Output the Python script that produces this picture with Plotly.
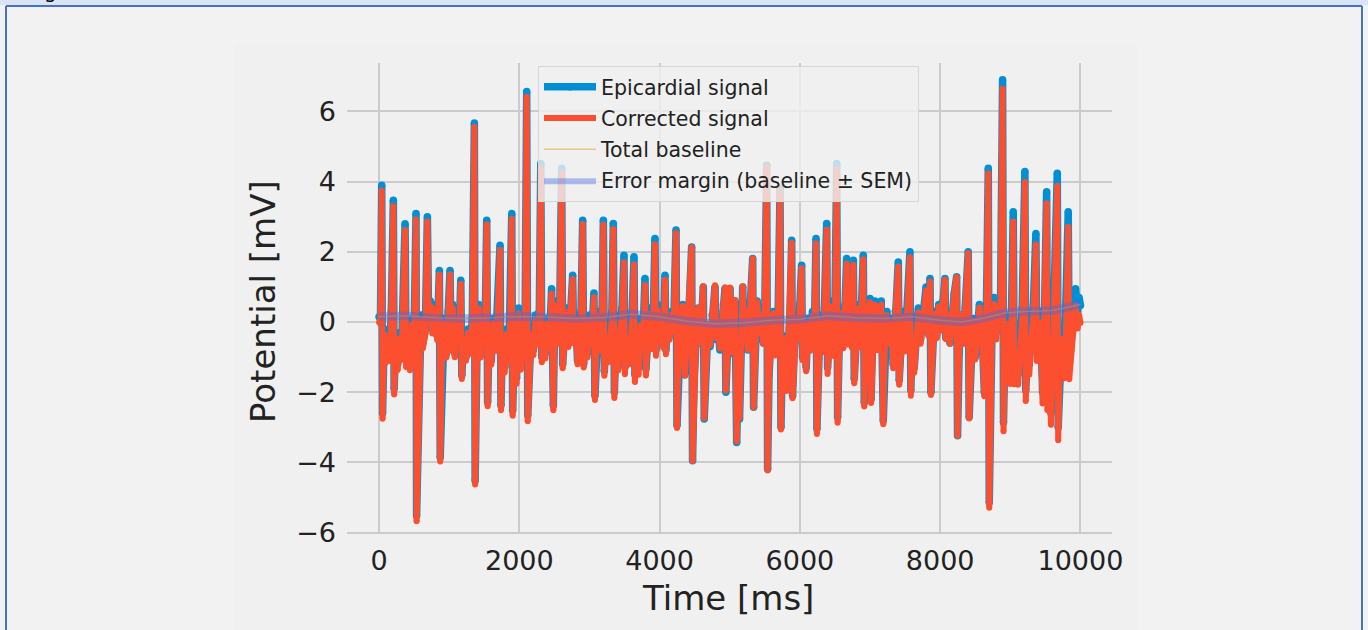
import numpy as np
import plotly.graph_objects as go

# Epicardial recording: vertex times (ms) and potentials (mV)
time_ms = [
    0, 20, 38, 50, 75, 95, 120, 150, 175, 204, 215, 240, 265, 290, 320, 345, 371, 385, 410, 440,
    470, 500, 527, 535, 560, 575, 600, 625, 660, 689, 705, 730, 760, 790, 830, 860, 872, 900, 930, 960,
    985, 1012, 1025, 1050, 1080, 1110, 1140, 1165, 1180, 1210, 1240, 1270, 1300, 1330, 1359, 1370, 1395, 1420, 1450, 1480,
    1510, 1535, 1548, 1570, 1600, 1630, 1660, 1690, 1725, 1738, 1760, 1790, 1820, 1850, 1870, 1892, 1905, 1930, 1960, 1990,
    2020, 2050, 2080, 2105, 2120, 2145, 2170, 2200, 2230, 2260, 2285, 2306, 2320, 2345, 2370, 2400, 2430, 2460, 2485, 2500,
    2520, 2545, 2575, 2604, 2618, 2640, 2670, 2700, 2730, 2760, 2775, 2800, 2830, 2860, 2880, 2903, 2917, 2940, 2970, 3000,
    3030, 3064, 3078, 3100, 3130, 3160, 3180, 3198, 3212, 3240, 3270, 3300, 3320, 3340, 3355, 3380, 3410, 3440, 3465, 3492,
    3505, 3530, 3560, 3590, 3610, 3635, 3648, 3670, 3700, 3730, 3760, 3792, 3805, 3830, 3860, 3890, 3910, 3934, 3948, 3970,
    4000, 4030, 4050, 4077, 4090, 4110, 4140, 4170, 4200, 4234, 4248, 4270, 4300, 4330, 4360, 4390, 4420, 4457, 4470, 4490,
    4520, 4550, 4580, 4600, 4623, 4636, 4660, 4690, 4720, 4750, 4790, 4803, 4830, 4860, 4890, 4910, 4932, 4945, 4970, 5004,
    5020, 5050, 5075, 5099, 5120, 5140, 5160, 5185, 5200, 5230, 5260, 5290, 5327, 5340, 5360, 5390, 5420, 5450, 5480, 5500,
    5527, 5540, 5560, 5590, 5620, 5650, 5690, 5717, 5730, 5750, 5780, 5810, 5840, 5860, 5883, 5896, 5920, 5950, 5980, 6000,
    6025, 6038, 6060, 6090, 6120, 6150, 6180, 6205, 6230, 6243, 6265, 6290, 6320, 6350, 6382, 6395, 6420, 6450, 6480, 6500,
    6525, 6538, 6560, 6590, 6620, 6645, 6667, 6680, 6710, 6740, 6762, 6775, 6800, 6830, 6860, 6880, 6904, 6918, 6940, 6970,
    7000, 7015, 7040, 7070, 7100, 7130, 7160, 7189, 7210, 7240, 7270, 7300, 7330, 7360, 7403, 7416, 7440, 7470, 7500, 7530,
    7569, 7582, 7600, 7630, 7660, 7690, 7720, 7750, 7800, 7830, 7855, 7868, 7890, 7920, 7950, 7980, 8010, 8040, 8068, 8080,
    8110, 8140, 8170, 8200, 8235, 8248, 8270, 8300, 8330, 8360, 8400, 8413, 8440, 8470, 8500, 8530, 8560, 8600, 8630, 8660,
    8686, 8700, 8720, 8745, 8770, 8800, 8830, 8860, 8890, 8903, 8925, 8950, 8975, 9000, 9020, 9042, 9055, 9080, 9110, 9140,
    9170, 9208, 9220, 9245, 9270, 9300, 9330, 9365, 9378, 9400, 9430, 9460, 9490, 9518, 9530, 9555, 9580, 9610, 9640, 9670,
    9683, 9710, 9740, 9770, 9800, 9826, 9840, 9870, 9900, 9930, 9960, 9980, 10000,
]
epicardial_mv = [
    0.15, 0.1, 3.9, -2.6, -0.2, -1.0, -0.6, -0.95, 0.3, 3.47, -1.9, -0.4, -1.2, -0.3, -0.9, 0.4, 2.8, -1.1, -0.5, -1.2,
    0.1, -0.3, 3.09, -5.52, -3.4, -0.8, 0.2, -0.6, -0.2, 3.0, 0.3, 0.6, -0.2, 0.5, -0.4, 1.47, -3.86, -0.6, 0.1, -0.9,
    0.3, 1.47, -0.7, 0.5, -0.9, 0.2, -0.5, 1.19, -1.52, -0.4, -1.0, -0.2, -0.8, 0.1, 5.67, -4.52, -1.0, 0.5, -0.9, 0.2,
    -0.5, 2.9, -2.28, -0.4, -1.1, 0.1, -0.7, 0.3, 2.19, -2.38, -0.5, -1.3, -0.2, -1.0, 0.3, 3.09, -2.52, -0.6, -1.6, 0.4,
    -1.2, -0.3, -0.9, 6.57, -2.67, -1.1, -0.2, -0.8, 0.2, -0.5, 0.3, 4.52, -1.0, -0.3, -0.9, 0.1, -0.6, 0.95, -2.38, -0.4,
    0.6, -0.5, 0.3, 4.38, -1.2, -0.5, 0.4, -0.6, 0.2, 1.33, -0.5, 0.2, -1.1, -0.2, 0.3, 2.9, -1.19, -0.4, -0.9, 0.2,
    -0.5, 0.83, -2.1, -0.4, 0.3, -0.7, 0.2, 2.9, -1.4, -0.3, -1.0, -0.2, 0.3, 2.81, -2.0, -0.5, -1.2, 0.0, 0.4, 1.9,
    -1.29, -0.3, -1.0, -0.2, 0.3, 1.86, -1.5, -0.4, -1.3, 0.1, -0.5, 1.24, -1.34, -0.3, 0.4, -0.6, 0.2, 2.38, -0.8, 0.5,
    -0.4, 0.3, -0.6, 1.33, -0.8, 0.1, -0.4, 0.3, -0.2, 2.62, -2.95, -1.0, -0.2, 0.5, -1.5, -0.3, 0.4, 2.14, -3.95, -1.8,
    -0.5, 0.4, -0.6, 0.3, 1.0, -2.76, -0.9, -0.1, -0.7, 0.2, 1.0, -0.5, -0.1, -0.8, 0.0, 0.5, 0.95, -2.0, -0.8, 0.95,
    -0.9, -0.3, 0.6, -3.43, -1.6, -2.76, -0.6, 1.0, -0.4, 0.3, -0.8, 0.3, 1.81, -2.43, -0.6, 0.6, -0.3, 0.2, -0.6, 0.4,
    4.47, -4.19, -1.5, -0.4, 0.3, -0.9, 0.2, 3.81, -3.0, -1.0, -0.4, -1.9, -0.5, 0.3, 2.33, -2.1, -0.8, 0.2, -0.4, 0.5,
    1.62, -1.0, -0.5, -1.3, 0.1, -0.7, 0.3, -0.4, 2.38, -3.05, -0.9, 0.2, -0.7, 0.4, 2.81, -1.3, -0.4, 0.6, -0.8, 0.3,
    4.52, -2.71, -0.7, 0.4, -0.6, 0.5, 1.81, -0.5, 0.3, -0.6, 1.76, -1.62, -0.3, 0.5, -0.6, 0.4, 1.9, -2.29, -0.4, 0.2,
    0.67, -2.2, -0.3, 0.6, -0.7, 0.2, 0.6, -2.81, -0.6, 0.3, -0.5, 0.1, -1.2, 0.3, 1.71, -1.66, -0.4, 0.3, -0.7, 0.4,
    2.0, -1.95, -0.6, -1.3, -0.2, 0.4, -0.5, 0.2, 1.0, -0.3, 1.24, -2.0, -0.6, 0.3, -0.4, 0.5, -0.2, 0.6, 1.24, -0.45,
    0.2, -0.6, 0.3, 0.8, 1.29, -3.24, -0.9, 0.2, -0.6, 0.4, 2.0, -2.71, -0.8, 0.1, -1.0, -0.2, 0.5, -0.4, -2.0, 0.4,
    4.38, -5.14, -1.5, 0.5, 0.7, -0.3, 0.6, 0.4, 6.9, -2.86, -0.5, 0.2, -0.8, -1.5, 0.6, 3.14, -1.5, -0.6, -1.5, -0.3,
    0.4, 4.29, -1.95, -0.7, -1.2, -0.2, 0.5, 2.52, -0.8, -0.3, 0.3, -2.0, 0.5, 3.71, -2.19, -0.8, -2.6, -0.3, 0.6, 4.24,
    -3.0, -0.8, -0.1, -1.2, 0.6, 3.14, -1.2, -0.4, 0.2, 0.95, 0.3, 0.7, 0.47,
]

# Slow baseline drift estimate and its standard error
baseline_t = [0, 400, 800, 1200, 1600, 2000, 2400, 2800, 3200, 3600, 4000, 4400, 4800, 5200,
              5600, 6000, 6400, 6800, 7200, 7600, 8000, 8300, 8600, 8900, 9200, 9600, 10000]
baseline_mv = [0.15, 0.18, 0.12, 0.10, 0.12, 0.16, 0.14, 0.10, 0.13, 0.22, 0.15, 0.02, -0.05, -0.02,
               0.05, 0.08, 0.18, 0.12, 0.10, 0.15, 0.05, 0.00, 0.10, 0.25, 0.30, 0.33, 0.50]
sem_mv = [0.12, 0.12, 0.11, 0.12, 0.12, 0.13, 0.12, 0.12, 0.12, 0.13, 0.12, 0.12, 0.12, 0.12,
          0.12, 0.12, 0.13, 0.12, 0.12, 0.12, 0.12, 0.12, 0.12, 0.13, 0.12, 0.12, 0.13]

x_ticks = [0, 2000, 4000, 6000, 8000, 10000]
x_tick_labels = ["0", "2000", "4000", "6000", "8000", "10000"]
y_ticks = [-6, -4, -2, 0, 2, 4, 6]
y_tick_labels = ["\u22126", "\u22124", "\u22122", "0", "2", "4", "6"]

t = np.array(time_ms, dtype=float)
epi = np.array(epicardial_mv, dtype=float)
corrected = epi - np.interp(t, baseline_t, baseline_mv)
band_hi = np.array(baseline_mv) + np.array(sem_mv)
band_lo = np.array(baseline_mv) - np.array(sem_mv)

FONT = "DejaVu Sans"
BLUE = "#008fd5"
RED = "#fc4f30"
W_EPI = 7.5
W_COR = 6

fig = go.Figure()
# markers of the same size as the stroke give the thick traces round joins
fig.add_trace(go.Scatter(x=t, y=epi, mode="lines+markers", name="Epicardial signal",
                         line=dict(color=BLUE, width=W_EPI),
                         marker=dict(color=BLUE, size=W_EPI, line=dict(width=0)),
                         legendrank=1, legendgroup="a"))
fig.add_trace(go.Scatter(x=t, y=corrected, mode="lines+markers", name="Corrected signal",
                         line=dict(color=RED, width=W_COR),
                         marker=dict(color=RED, size=W_COR, line=dict(width=0)),
                         legendrank=2, legendgroup="b"))
fig.add_trace(go.Scatter(x=baseline_t, y=baseline_mv, mode="lines", name="Total baseline",
                         line=dict(color="rgba(229,174,56,0.6)", width=1.5),
                         legendrank=3, legendgroup="c"))
fig.add_trace(go.Scatter(x=baseline_t, y=band_hi, mode="lines", line=dict(width=0),
                         showlegend=False, hoverinfo="skip", legendgroup="d"))
fig.add_trace(go.Scatter(x=baseline_t, y=band_lo, mode="lines", fill="tonexty",
                         fillcolor="rgba(65,105,225,0.4)", line=dict(width=0),
                         name="Error margin (baseline \u00b1 SEM)", legendrank=4, legendgroup="d"))

# pixel helpers for page decorations (plot area: x 347..1112, y 63..534)
def px(xp):
    return (xp - 347) / 765.0

def py(yp):
    return (534 - yp) / 471.0

shapes = [
    dict(type="rect", xref="paper", yref="paper", x0=px(235), x1=px(1137), y0=py(660), y1=py(45),
         fillcolor="#f0f0f0", line=dict(width=0), layer="below"),
    dict(type="rect", xref="paper", yref="paper", x0=px(-5), x1=px(1375), y0=py(5), y1=py(-5),
         fillcolor="#dae3f3", line=dict(width=0), layer="below"),
    dict(type="line", xref="paper", yref="paper", x0=px(6), x1=px(1362), y0=py(6), y1=py(6),
         line=dict(color="#4472c4", width=2)),
    dict(type="line", xref="paper", yref="paper", x0=px(6), x1=px(6), y0=py(6), y1=py(660),
         line=dict(color="#4472c4", width=2)),
    dict(type="line", xref="paper", yref="paper", x0=px(1362), x1=px(1362), y0=py(6), y1=py(660),
         line=dict(color="#4472c4", width=2)),
]

annotations = [
    dict(text="Potential [mV]", xref="paper", yref="paper", x=px(263), y=py(302), textangle=-90,
         showarrow=False, font=dict(family=FONT, size=34, color="#222222"),
         xanchor="center", yanchor="middle"),
    dict(text="Time [ms]", xref="paper", yref="paper", x=px(728), y=py(598),
         showarrow=False, font=dict(family=FONT, size=34, color="#222222"),
         xanchor="center", yanchor="middle"),
    dict(text="g", xref="paper", yref="paper", x=px(50), y=py(-9),
         showarrow=False, font=dict(family=FONT, size=20, color="#000000"),
         xanchor="center", yanchor="middle"),
]

fig.update_layout(
    width=1368, height=630,
    margin=dict(l=347, r=256, t=63, b=96, pad=0),
    paper_bgcolor="#f2f2f2", plot_bgcolor="#f0f0f0",
    font=dict(family=FONT, color="#222222"),
    showlegend=True,
    legend=dict(x=px(538), y=py(66), xanchor="left", yanchor="top",
                bgcolor="rgba(240,240,240,0.8)", bordercolor="#d6d6d6", borderwidth=1,
                font=dict(family=FONT, size=20.5, color="#222222"),
                traceorder="grouped", tracegroupgap=1.5, itemwidth=52),
    shapes=shapes, annotations=annotations,
)
fig.update_xaxes(range=[-457, 10450], tickvals=x_ticks, ticktext=x_tick_labels,
                 showgrid=True, gridcolor="#cbcbcb", gridwidth=2, zeroline=False,
                 showline=False, ticks="", tickfont=dict(family=FONT, size=27, color="#222222"),
                 ticklabelstandoff=8)
fig.update_yaxes(range=[-6.04, 7.38], tickvals=y_ticks, ticktext=y_tick_labels,
                 showgrid=True, gridcolor="#cbcbcb", gridwidth=2, zeroline=False,
                 showline=False, ticks="", tickfont=dict(family=FONT, size=27, color="#222222"),
                 ticklabelstandoff=10)

fig.write_html("out.html")
